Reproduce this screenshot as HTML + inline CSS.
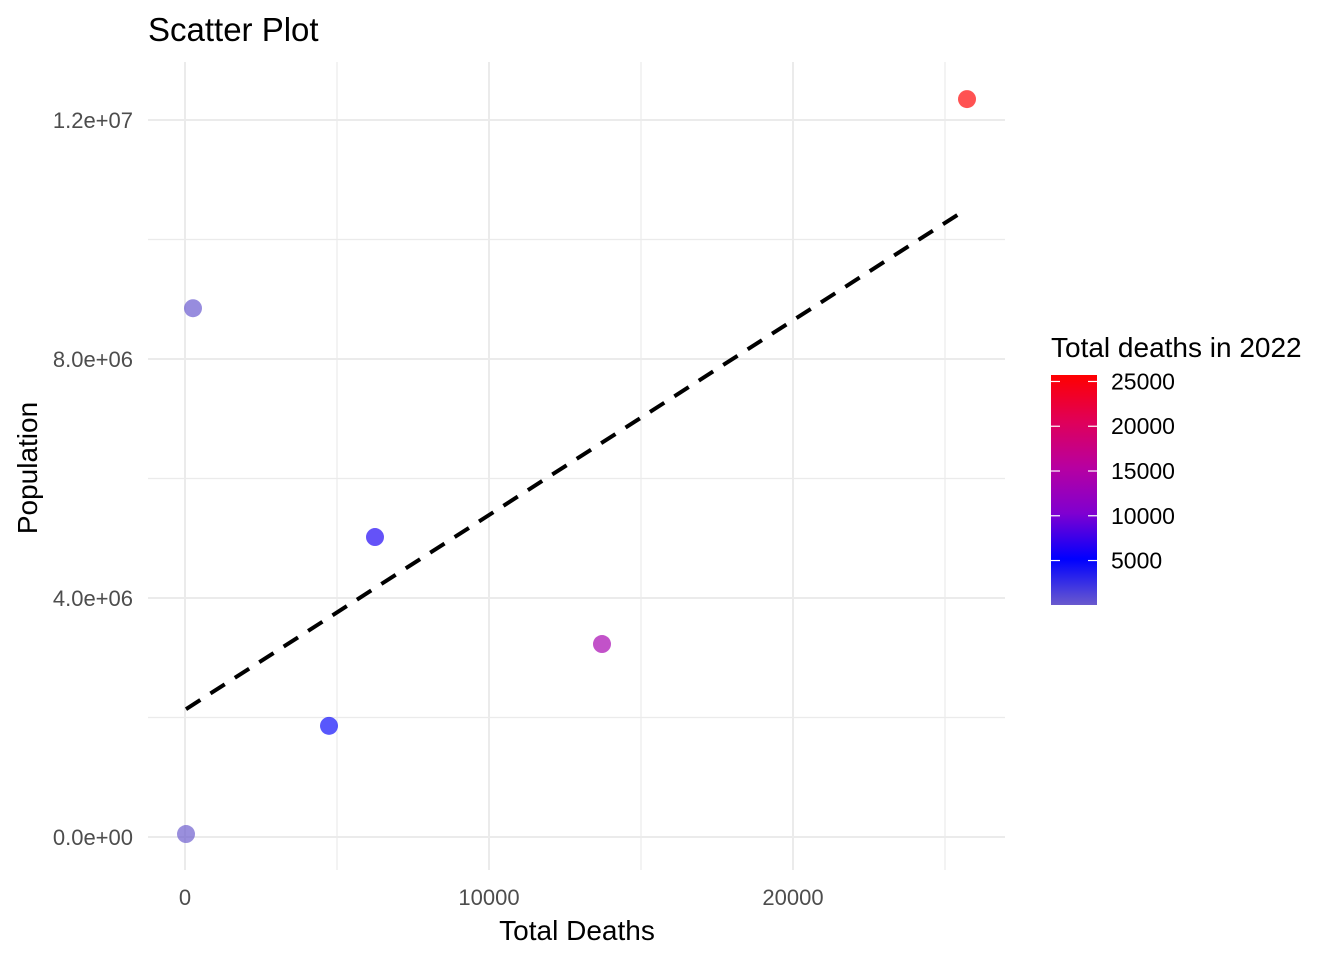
<!DOCTYPE html>
<html><head><meta charset="utf-8"><style>
html,body{margin:0;padding:0;background:#fff;}
svg text{font-family:"Liberation Sans",Arial,sans-serif;}
</style></head><body>
<svg id="chart" width="1344" height="960" xmlns="http://www.w3.org/2000/svg">
<defs>
<linearGradient id="cbar" x1="0" y1="1" x2="0" y2="0">
<stop offset="0" stop-color="#6a5acd"/>
<stop offset="0.2" stop-color="#0000ff"/>
<stop offset="0.4" stop-color="#8000d0"/>
<stop offset="0.6" stop-color="#b800a0"/>
<stop offset="0.8" stop-color="#e00058"/>
<stop offset="1" stop-color="#ff0000"/>
</linearGradient>
</defs>
<text x="148" y="41" font-size="33" fill="#000">Scatter Plot</text>
<g id="grid"></g>
<g id="axes"></g>
<g id="fit"></g>
<g id="points"></g>
<text x="577" y="940" font-size="28" text-anchor="middle">Total Deaths</text>
<text transform="translate(37,468) rotate(-90)" font-size="28" text-anchor="middle">Population</text>
<g>
<text x="1051" y="357" font-size="28">Total deaths in 2022</text>
<rect x="1051" y="375" width="46" height="230" fill="url(#cbar)"/>
<g id="legticks"></g>
</g>
</svg>
<script>
const deaths = [25724, 263, 6250, 13717, 4737, 33];
const population = [12350000, 8850000, 5020000, 3230000, 1860000, 50000];
const fitDeaths = [33, 25560];
const fitPopulation = [2140000, 10460000];
const xTicks = [0, 10000, 20000];
const xTickLabels = ["0", "10000", "20000"];
const yTicks = [0, 4000000, 8000000, 12000000];
const yTickLabels = ["0.0e+00", "4.0e+06", "8.0e+06", "1.2e+07"];
const legendTicks = [5000, 10000, 15000, 20000, 25000];
const legendTickLabels = ["5000", "10000", "15000", "20000", "25000"];

const NS = "http://www.w3.org/2000/svg";
const X = v => 185 + v * 0.0304;
const Y = v => 837 - v * 0.00005975;
const cMin = Math.min(...deaths), cMax = Math.max(...deaths);
const L = v => 605 - (v - cMin) / (cMax - cMin) * 230;
function mk(tag, attrs, parent){const e=document.createElementNS(NS,tag);for(const k in attrs)e.setAttribute(k,attrs[k]);parent.appendChild(e);return e;}
const grid=document.getElementById('grid');
for(let v=5000; v<=25000; v+=10000){const l=mk('line',{x1:X(v),x2:X(v),y1:62,y2:870,stroke:'#ebebeb','stroke-width':1.2},grid);

}
for(let v=2000000; v<=10000000; v+=4000000){const l=mk('line',{x1:148,x2:1005,y1:Y(v),y2:Y(v),stroke:'#ebebeb','stroke-width':1.2},grid);

}
const axes=document.getElementById('axes');
xTicks.forEach((v,i)=>{const l=mk('line',{x1:X(v),x2:X(v),y1:62,y2:870,stroke:'#ebebeb','stroke-width':2},grid);


const t=mk('text',{x:X(v),y:905,'font-size':22,fill:'#4d4d4d','text-anchor':'middle'},axes);t.textContent=xTickLabels[i];

});
yTicks.forEach((v,i)=>{const l=mk('line',{x1:148,x2:1005,y1:Y(v),y2:Y(v),stroke:'#ebebeb','stroke-width':2},grid);


const t=mk('text',{x:133,y:Y(v)+8,'font-size':22,fill:'#4d4d4d','text-anchor':'end'},axes);t.textContent=yTickLabels[i];

});
const fl=mk('line',{x1:X(fitDeaths[0]),y1:Y(fitPopulation[0]),x2:X(fitDeaths[1]),y2:Y(fitPopulation[1]),stroke:'#000','stroke-width':4,'stroke-dasharray':'17 12'},document.getElementById('fit'));


const stops=[[0,[106,90,205]],[0.2,[0,0,255]],[0.4,[128,0,208]],[0.6,[184,0,160]],[0.8,[224,0,88]],[1,[255,0,0]]];
function col(v){const f=(v-cMin)/(cMax-cMin);for(let i=1;i<stops.length;i++){if(f<=stops[i][0]){const s0=stops[i-1],s1=stops[i];const t=(f-s0[0])/(s1[0]-s0[0]);const c=s0[1].map((c0,j)=>Math.round(c0+(s1[1][j]-c0)*t));return `rgb(${c})`;}}return 'rgb(255,0,0)';}
const pts=document.getElementById('points');
deaths.forEach((d,i)=>{const c=mk('circle',{cx:X(d),cy:Y(population[i]),r:9,fill:col(d),'fill-opacity':0.68},pts);

});
const lt=document.getElementById('legticks');
legendTicks.forEach((v,i)=>{const y=L(v);
mk('line',{x1:1051,x2:1060,y1:y,y2:y,stroke:'#fff','stroke-width':1.2},lt);
mk('line',{x1:1088,x2:1097,y1:y,y2:y,stroke:'#fff','stroke-width':1.2},lt);
const t=mk('text',{x:1111,y:y+8,'font-size':23,fill:'#000'},lt);t.textContent=legendTickLabels[i];

});
</script>
</body></html>
